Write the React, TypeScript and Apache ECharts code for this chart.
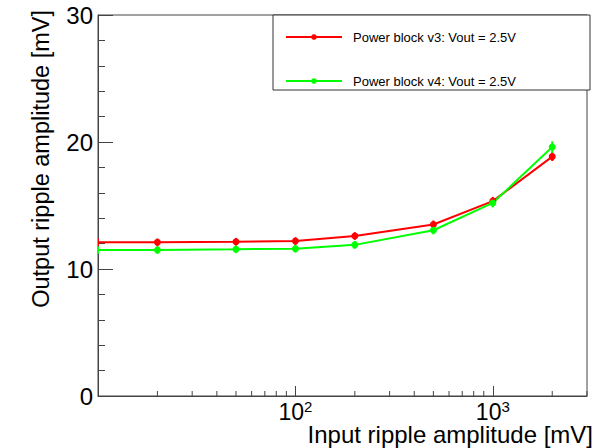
import React, { useEffect, useRef } from "react";
import * as echarts from "echarts";

const xValues = [10, 20, 50, 100, 200, 500, 1000, 2000];
const v3Values = [12.1, 12.1, 12.15, 12.2, 12.6, 13.5, 15.35, 18.85];
const v3Errors = [0.3, 0.3, 0.3, 0.3, 0.3, 0.32, 0.33, 0.35];
const v4Values = [11.5, 11.5, 11.55, 11.6, 11.9, 13.05, 15.2, 19.6];
const v4Errors = [0.3, 0.3, 0.3, 0.3, 0.3, 0.32, 0.35, 0.45];
const xMinorTicks = [20, 30, 40, 50, 60, 70, 80, 90, 200, 300, 400, 500, 600, 700, 800, 900, 2000, 3000];
const xLabelledDecades = [100, 1000];
const seriesNames = ["Power block v3: Vout = 2.5V", "Power block v4: Vout = 2.5V"];
const xTitle = "Input ripple amplitude [mV]";
const yTitle = "Output ripple amplitude [mV]";

const FONT = "'Liberation Sans', Arial, Helvetica, sans-serif";
const AXIS_COLOR = "#444";

function errorSeries(values: number[], errors: number[], color: string) {
  return {
    type: "custom",
    silent: true,
    clip: true,
    data: xValues.map((x, i) => [x, values[i] - errors[i], values[i] + errors[i]]),
    encode: { x: 0, y: [1, 2] },
    renderItem: (params: any, api: any) => {
      const x = api.value(0);
      const p1 = api.coord([x, api.value(1)]);
      const p2 = api.coord([x, api.value(2)]);
      return {
        type: "line",
        shape: { x1: p1[0], y1: p1[1], x2: p2[0], y2: p2[1] },
        style: { stroke: color, lineWidth: 2 },
      };
    },
    z: 3,
  };
}

function lineSeries(name: string, values: number[], color: string) {
  return {
    type: "line",
    name,
    data: xValues.map((x, i) => (i === 0 ? { value: [x, values[i]], symbolSize: 0 } : [x, values[i]])),
    symbol: "circle",
    symbolSize: 7,
    showSymbol: true,
    clip: true,
    lineStyle: { color, width: 2 },
    itemStyle: { color },
    z: 4,
  };
}

export default function App() {
  const ref = useRef<HTMLDivElement>(null);
  useEffect(() => {
    document.body.style.margin = "0";
    if (!ref.current) return;
    const chart = echarts.init(ref.current, null, { renderer: "svg" });
    chart.setOption({
      animation: false,
      backgroundColor: "#fff",
      textStyle: { fontFamily: FONT },
      grid: {
        left: 98,
        top: 15,
        right: 19,
        bottom: 52,
        show: true,
        borderColor: AXIS_COLOR,
        borderWidth: 1,
      },
      xAxis: {
        type: "log",
        logBase: 10,
        min: 10,
        max: 3000,
        axisLine: { lineStyle: { color: AXIS_COLOR, width: 1 } },
        axisTick: { inside: true, length: 10, lineStyle: { color: AXIS_COLOR } },
        splitLine: { show: false },
        axisLabel: {
          margin: 3,
          showMaxLabel: false,
          formatter: (v: number) => {
            const hit = xLabelledDecades.find((d) => Math.abs(d - v) / d < 1e-6);
            if (!hit) return "";
            return "{b|10}{s|" + Math.round(Math.log10(hit)) + "}";
          },
          rich: {
            b: { fontSize: 23, fontFamily: FONT, color: "#000" },
            s: { fontSize: 15, fontFamily: FONT, color: "#000", verticalAlign: "top", padding: [0, 0, 10, 0] },
          },
        },
      },
      yAxis: {
        type: "value",
        min: 0,
        max: 30,
        interval: 10,
        axisLine: { show: true, lineStyle: { color: AXIS_COLOR, width: 1 } },
        axisTick: { show: true, inside: true, length: 15, lineStyle: { color: AXIS_COLOR } },
        minorTick: { show: true, splitNumber: 5, length: 7, lineStyle: { color: AXIS_COLOR } },
        splitLine: { show: false },
        minorSplitLine: { show: false },
        axisLabel: { fontSize: 24, color: "#000", margin: 5, fontFamily: FONT },
      },
      legend: {
        orient: "vertical",
        left: 280,
        top: 25.5,
        padding: 5,
        itemWidth: 56,
        itemHeight: 7,
        itemGap: 31,
        data: seriesNames,
        textStyle: { fontSize: 13, color: "#000", fontFamily: FONT, padding: [0, 0, 0, 6] },
      },
      graphic: [
        {
          type: "rect",
          z: 3,
          shape: { x: 273, y: 15, width: 317, height: 75 },
          style: { fill: "#fff", stroke: "#333", lineWidth: 1 },
        },
        {
          type: "text",
          x: 41,
          y: 10,
          rotation: Math.PI / 2,
          style: { text: yTitle, font: "23.5px " + FONT, fill: "#000", align: "right", verticalAlign: "middle" },
        },
        {
          type: "text",
          x: 593,
          y: 434,
          style: { text: xTitle, font: "24px " + FONT, fill: "#000", align: "right", verticalAlign: "middle" },
        },
      ],
      series: [
        {
          type: "custom",
          silent: true,
          data: xMinorTicks.map((v) => [v, 0]),
          encode: { x: 0, y: 1 },
          renderItem: (params: any, api: any) => {
            const p = api.coord([api.value(0), api.value(1)]);
            return {
              type: "line",
              shape: { x1: p[0], y1: p[1], x2: p[0], y2: p[1] - 5 },
              style: { stroke: AXIS_COLOR, lineWidth: 1 },
            };
          },
          z: 2,
        },
        errorSeries(v3Values, v3Errors, "#ff0000"),
        errorSeries(v4Values, v4Errors, "#00ff00"),
        lineSeries(seriesNames[0], v3Values, "#ff0000"),
        lineSeries(seriesNames[1], v4Values, "#00ff00"),
      ],
    });
    return () => chart.dispose();
  }, []);
  return <div ref={ref} style={{ width: 606, height: 448 }} />;
}
